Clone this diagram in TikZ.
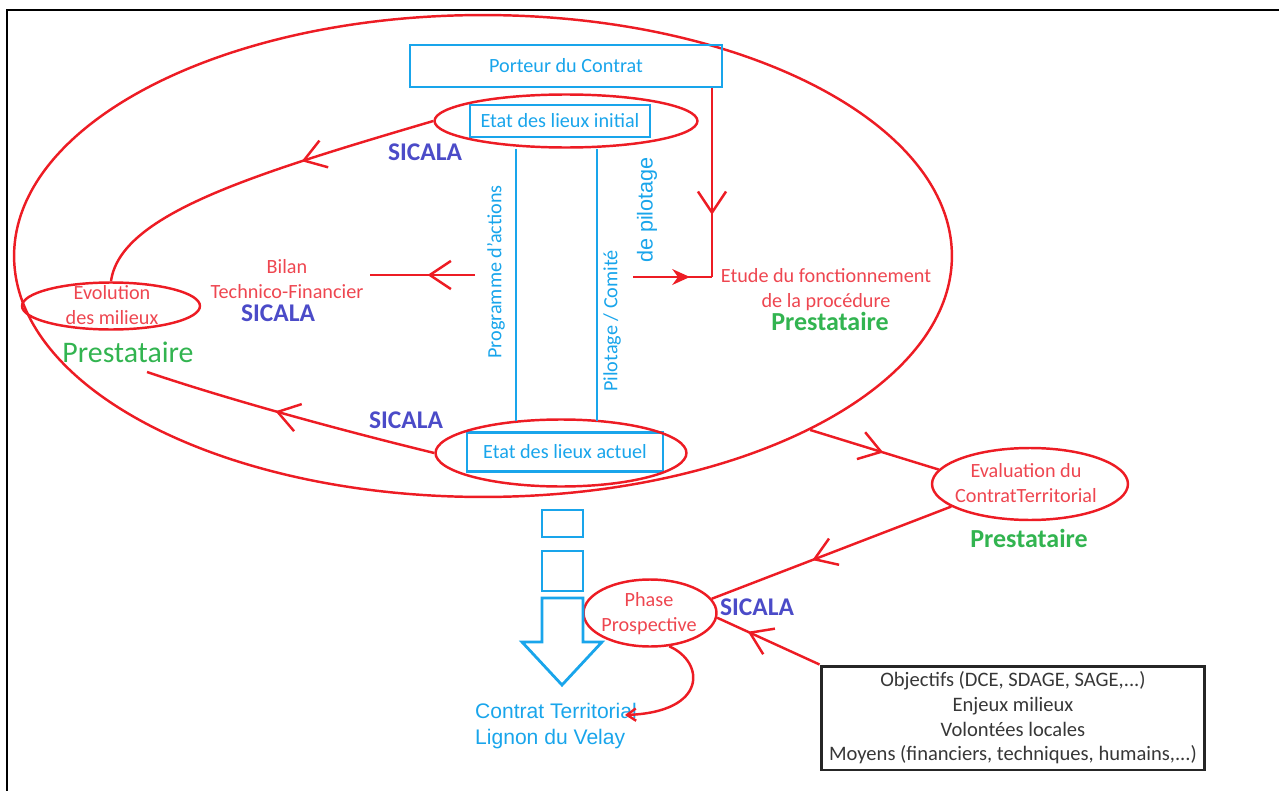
\documentclass[tikz,border=0pt]{standalone}
\usepackage{fontspec}
\setmainfont{Carlito}
\newfontfamily\arialfont{Liberation Sans}
\usepackage{tikz}
\usetikzlibrary{arrows.meta,shapes.geometric,positioning,calc,decorations.markings}
\definecolor{lred}{RGB}{237,28,36}
\definecolor{tred}{RGB}{238,70,80}
\definecolor{sky}{RGB}{25,165,235}
\definecolor{sicala}{RGB}{75,75,200}
\definecolor{presta}{RGB}{50,180,80}
\definecolor{objgray}{RGB}{55,55,55}
\tikzstyle{redline} = [draw=lred, line width=1.4pt]
\tikzstyle{ring} = [ellipse, draw=lred, line width=1.4pt, inner sep=0pt]
\tikzstyle{bluebox} = [rectangle, draw=sky, line width=1.6pt, text=sky, inner sep=0pt, font=\fontsize{11.5}{14}\selectfont]
\tikzstyle{blueline} = [draw=sky, line width=1.6pt]
\tikzstyle{redlabel} = [text=tred, align=center, font=\fontsize{11.5}{14.2}\selectfont]
\tikzstyle{sidelabel} = [text=sky, rotate=90, font=\fontsize{11.5}{14}\selectfont]
\tikzstyle{sicalalabel} = [text=sicala, font=\fontsize{14.5}{16}\selectfont\bfseries]
\tikzstyle{prestalabel} = [text=presta, font=\fontsize{14.8}{16}\selectfont\bfseries]
\tikzset{midarrow/.style={decoration={markings,mark=at position #1 with {\arrow{Straight Barb[length=12pt,width=16pt]}}},postaction={decorate}},
  midarrow/.default=0.5,
  midfill/.style={decoration={markings,mark=at position #1 with {\arrow{Stealth[length=10pt,width=9pt]}}},postaction={decorate}}}

\begin{document}
\begin{tikzpicture}[x=0.02cm, y=-0.02cm]
\useasboundingbox (0,0) rectangle (1279,791);
% Frame
\draw[line width=1.1pt] (1279,10) -- (7,10) -- (7,791);

% Big loop
\node[ring, minimum width=18.76cm, minimum height=9.64cm] (big) at (483,256) {};

% Boxes
\node[bluebox, minimum width=6.24cm, minimum height=0.84cm] (porteur) at (566,66) {Porteur du Contrat};
\node[bluebox, minimum width=3.6cm, minimum height=0.64cm] (initial) at (560,121) {Etat des lieux initial};
\node[ring, minimum width=5.26cm, minimum height=1.06cm] (initialE) at (566,121) {};
\node[bluebox, minimum width=3.92cm, minimum height=0.78cm] (actuel) at (565,452) {Etat des lieux actuel};
\node[ring, minimum width=5.02cm, minimum height=1.34cm] (actuelE) at (561,453) {};

% Bars between the two states
\draw[blueline] ($(initialE.south)+(-50,0)$) -- ($(actuelE.north)+(-45,3)$);
\draw[blueline] ($(initialE.south)+(31,0)$) -- ($(actuelE.north)+(36,3)$);
\node[sidelabel] (prog) at (496,272) {Programme d'actions};
\node[sidelabel] (comite) at (612,321) {Pilotage / Comité};
\node[sidelabel, font=\arialfont\fontsize{12.3}{14}\selectfont] (pilotage) at (647,210) {de pilotage};

% Side stages
\node[redlabel] (etude) at (826,290) {Etude du fonctionnement\\de la procédure};
\node[prestalabel] (presta2) at (830,321) {Prestataire};
\node[redlabel] (bilan) at (287,279) {Bilan\\Technico-Financier};
\node[sicalalabel] (sicala2) at (278,313) {SICALA};
\node[ring, minimum width=3.56cm, minimum height=0.94cm] (evolE) at (111,306) {};
\node[redlabel] (evol) at (112,305) {Evolution\\des milieux};
\node[text=presta, font=\fontsize{17}{18}\selectfont] (presta1) at (128,352) {Prestataire};
\node[sicalalabel] (sicala1) at (425,152) {SICALA};
\node[sicalalabel] (sicala3) at (406,420) {SICALA};

% Evaluation and prospective
\node[ring, minimum width=3.92cm, minimum height=1.44cm] (evalE) at (1030,484) {};
\node[redlabel] (eval) at (1026,483) {Evaluation du\\ContratTerritorial};
\node[prestalabel] (presta3) at (1029,538) {Prestataire};
\node[ring, minimum width=2.66cm, minimum height=1.34cm] (phaseE) at (650,613) {};
\node[redlabel] (phase) at (649,614) {Phase\\Prospective};
\node[sicalalabel] (sicala4) at (757,607) {SICALA};
\node[draw=black!85, line width=1.7pt, minimum width=7.68cm, minimum height=2.08cm, text=objgray, align=center, font=\fontsize{11.7}{14}\selectfont] (objectifs) at (1013,718) {Objectifs (DCE, SDAGE, SAGE,...)\\Enjeux milieux\\Volontées locales\\Moyens (financiers, techniques, humains,...)};

% Result arrow
\draw[blueline] (542,510) rectangle (583,537);
\draw[blueline] (542,551) rectangle (583,591);
\draw[blueline, line join=miter] (542,598) -- (583,598) -- (583,642) -- (602,642) -- (562,685) -- (522,642) -- (542,642) -- cycle;
\node[text=sky, align=left, font=\arialfont\fontsize{12}{15.3}\selectfont] (contrat) at (556,726) {Contrat Territorial\\Lignon du Velay};

% Connectors
\coordinate (corner) at (712,277);
\coordinate (pilot) at (633,277);
\coordinate (progleft) at (475,275);
\coordinate (evolout) at (147,372);
\coordinate (ctend) at (625,715);
\draw[redline, midarrow=0.67] (porteur.south -| corner) -- (corner);
\draw[redline, midfill=0.72] (pilot) -- (corner);
\draw[redline, midarrow=0.45] (progleft) -- (bilan.east |- progleft);
\draw[redline, midarrow=0.37] (initialE.west) .. controls (250,175) and (120,215) .. (evolE.north);
\draw[redline, midarrow=0.55] (actuelE.west) .. controls (340,430) and (230,400) .. (evolout);
\draw[redline, midarrow=0.57] (big.-28) -- (evalE.171);
\draw[redline, midarrow=0.58] (evalE.196) -- (phaseE.13);
\draw[redline, midarrow=0.7] (objectifs.north west) -- (phaseE.-4);
\draw[redline, -{Straight Barb[length=5pt,width=7pt]}] (phaseE.-60) .. controls (705,662) and (708,712) .. (ctend);
\end{tikzpicture}
\end{document}
